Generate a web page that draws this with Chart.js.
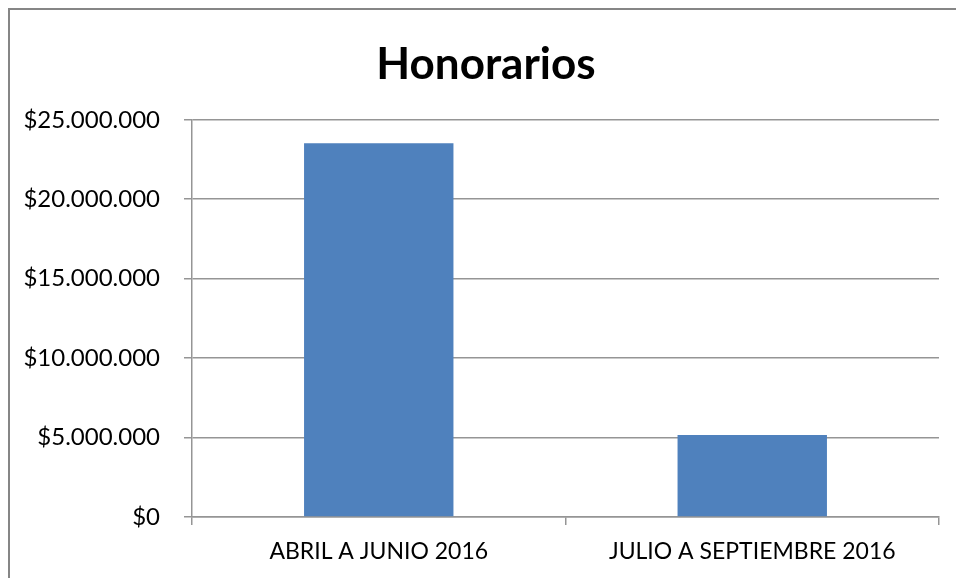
<!DOCTYPE html>
<html>
<head>
<meta charset="utf-8">
<script src="https://cdn.jsdelivr.net/npm/chart.js@4.4.1/dist/chart.umd.min.js"></script>
<style>
html,body{margin:0;padding:0;background:#fff;}
#wrap{position:relative;width:956px;height:578px;}
</style>
</head>
<body>
<div id="wrap"><canvas id="c" width="956" height="578"></canvas></div>
<script>
const categories = ["ABRIL A JUNIO 2016", "JULIO A SEPTIEMBRE 2016"];
const honorarios = [23530000, 5150000];
const chartTitle = "Honorarios";

function fmtPeso(v){
  return "$" + String(Math.round(v)).replace(/\B(?=(\d{3})+(?!\d))/g, ".");
}

const framePlugin = {
  id: 'frame',
  afterLayout(chart){
    // shift the title's horizontal box so it is centred like the reference
    const t = chart.titleBlock;
    if (t) { t.left = 33; }
  },
  afterDraw(chart){
    const ctx = chart.ctx;
    ctx.save();
    ctx.strokeStyle = '#868686';
    ctx.lineWidth = 2;
    ctx.beginPath();
    ctx.moveTo(9, 600);
    ctx.lineTo(9, 9);
    ctx.lineTo(960, 9);
    ctx.stroke();
    ctx.restore();
  }
};

const fontFam = "Lato, 'Open Sans', sans-serif";
const lineCol = '#959595';

new Chart(document.getElementById('c'), {
  type: 'bar',
  data: {
    labels: categories,
    datasets: [{
      label: chartTitle,
      data: honorarios,
      backgroundColor: '#4F81BD',
      borderWidth: 0,
      categoryPercentage: 0.4,
      barPercentage: 1.0
    }]
  },
  options: {
    responsive: false,
    animation: false,
    layout: { padding: { left: 0, right: 17, top: 0, bottom: 0.5 } },
    plugins: {
      legend: { display: false },
      tooltip: { enabled: false },
      title: {
        display: true,
        text: chartTitle,
        color: '#000',
        font: { family: fontFam, size: 44, weight: 'bold', lineHeight: 1.2 },
        padding: { top: 38, bottom: 29 }
      }
    },
    scales: {
      y: {
        min: 0, max: 25000000,
        ticks: {
          stepSize: 5000000,
          color: '#000',
          padding: 24,
          font: { family: fontFam, size: 24 },
          callback: (v) => fmtPeso(v)
        },
        grid: { color: lineCol, lineWidth: 1.5, tickLength: 8, drawTicks: true },
        border: { color: lineCol, width: 1.5 },
        afterFit(scale){ scale.width = 192; }
      },
      x: {
        offset: true,
        ticks: {
          color: '#000',
          padding: 12.5,
          font: { family: fontFam, size: 23 }
        },
        grid: { offset: true, drawOnChartArea: false, color: lineCol, lineWidth: 1.5, tickLength: 8 },
        border: { color: lineCol, width: 1.5 }
      }
    }
  },
  plugins: [framePlugin]
});
</script>
</body>
</html>
